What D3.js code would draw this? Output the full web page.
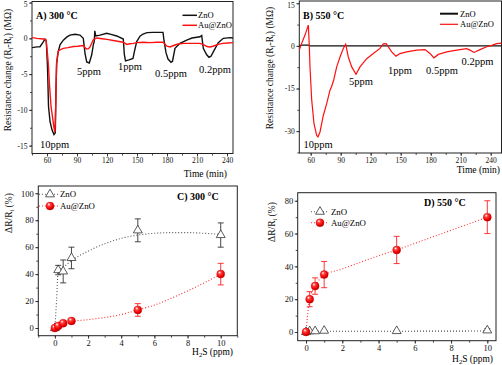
<!DOCTYPE html>
<html>
<head>
<meta charset="utf-8">
<script src="https://cdn.jsdelivr.net/npm/d3@7"></script>
<style>
  body { margin: 0; background: #fff; }
  svg { font-family: "Liberation Serif", "Times New Roman", serif; }
</style>
</head>
<body>
<svg id="chart" width="502" height="365"></svg>
<script>
// ---- data ----
const timeTicks = [60, 90, 120, 150, 180, 210, 240];
const ppmTicks = [0, 2, 4, 6, 8, 10];

// panel A, 300 °C, [time (min), resistance change (MΩ)]
const znoA = [[45,-1.3],[50,-1.2],[53,-1.17],[56.3,-0.5],[58,-0.1],[59.3,-0.4],[60.5,-4],[61.5,-9.5],[63,-11.6],[65,-12.8],[67,-13.45],[68.3,-13.2],[69,-7],[69.7,-3.5],[71,-2.0],[73,-0.9],[76.3,-0.25],[80,0.2],[83,0.45],[88,0.56],[93,0.45],[96.3,0.0],[98,-2.1],[99.7,-3.3],[102.3,-3.45],[104.7,-2.3],[106.3,-0.9],[107.3,-0.4],[107.8,1.05],[108.7,0.33],[113,0.45],[119.7,0.7],[124,0.55],[129.7,0.33],[136.3,-0.1],[137.3,-2.2],[138.5,-3.15],[142,-3.0],[146,-2.8],[147.5,-1.8],[149.7,-0.45],[153,0.3],[156,0.6],[160,0.8],[166,0.84],[176,0.84],[177,-0.3],[179,-2.0],[181,-2.9],[184,-3.35],[185.5,-3.2],[188,-1.4],[193,-0.7],[199.7,-0.24],[205,0.05],[213,0.22],[214.7,0.4],[216.3,-1.4],[219.7,-2.3],[222,-2.65],[224,-2.5],[226.3,-1.9],[231.3,-0.6],[236.3,0.0],[243,0.1],[246,0.05]];
const auA = [[45,0.1],[50,0.0],[56.3,-0.1],[59,-0.2],[60,-1.5],[61.3,-3.5],[62.5,-6.5],[64,-9.5],[65.5,-11],[67,-12.5],[68,-13.1],[68.8,-9],[69.5,-3.5],[71.3,-1.8],[73,-1.6],[76.3,-1.4],[81,-1.3],[86.3,-1.15],[91,-1.1],[96.3,-1.0],[98,-1.3],[99.7,-1.5],[101.5,-1.45],[103,-1.2],[106.3,-0.2],[109.7,0.05],[115,-0.05],[120,-0.15],[126.3,-0.3],[132,-0.45],[136.3,-0.55],[139.7,-0.85],[143,-0.75],[146.3,-0.7],[150,-0.6],[156,-0.55],[163,-0.6],[170,-0.55],[176,-0.55],[180,-1.1],[183,-1.2],[186.7,-1.0],[191,-0.8],[196.7,-0.7],[205,-0.7],[213,-0.7],[217,-0.9],[220,-1.15],[223,-1.2],[226,-1.1],[231,-0.85],[236,-0.7],[241,-0.65],[246,-0.6]];

// panel B, 550 °C
const znoB = [[48.6,0],[50.5,0.3],[58,0.3],[58.8,0],[250.8,0]];
const auB = [[48.6,-1.5],[50,0],[54.3,3.8],[57.6,7.3],[58.6,0],[59.3,-7.4],[61,-19],[63.3,-27.4],[66,-31.5],[67.3,-32],[69.3,-30.3],[72.6,-24.5],[76,-20.3],[79.3,-15.6],[81,-14.2],[83,-12],[86,-7.4],[89.3,-3.9],[92.6,-0.9],[95,0.6],[97.6,-3.9],[101,-7.4],[105.3,-10],[109.3,-7.4],[116,-4.5],[122.6,-2.7],[129.3,-0.9],[132.6,0.7],[135.5,0.8],[137,0],[141,-2.1],[145.3,-3.6],[149.3,-2.7],[156,-2.1],[166,-1.5],[174.3,-1.3],[179.3,-2.7],[183.3,-4.2],[187.6,-3],[196,-2.1],[206,-1.5],[216,-1.0],[219.3,-1.5],[223.3,-2.3],[229.3,-1.3],[236,-0.3],[241,0.2],[246,0.8],[250.8,1.0]];

// panels C & D: H2S (ppm) vs response ΔR/Ri (%), [ppm, mean, err]
const znoC = [[0,0,0],[0.2,43,3.5],[0.5,42,8.5],[1,52,8],[5,72.5,8.5],[10,69,9]];
const auC = [[0,0,0],[0.2,1.5,0],[0.5,3.5,0],[1,5.2,0],[5,13.4,4.7],[10,40,8]];
const znoD = [[0,0,0],[0.2,0.5,0],[0.5,0.5,0],[1,0.8,0],[5,0.6,0],[10,1,1]];
const auD = [[0,0,0],[0.2,20,4.6],[0.5,28,5],[1,35,8],[5,50,8.3],[10,70,10]];
// dotted guide curves
const znoFitC = [[0,0],[0.1,20],[0.2,42],[0.5,45],[1,50],[2,57],[3,62.5],[4,66.5],[5,69],[6,70.3],[7,70.8],[8,70.8],[9,70.3],[10,69.5]];
const auFitC = [[0,0],[0.2,1.5],[0.5,3],[1,4.8],[2,6.2],[3,7.8],[4,10],[5,13.5],[6,17],[7,22],[8,27.5],[9,33.5],[10,40]];
const znoFitD = [[0,0.3],[1,0.5],[5,0.5],[10,0.6]];
const auFitD = [[0,0],[0.1,12],[0.2,20],[0.5,28],[1,34.5],[2,38.5],[3,42.5],[4,46.5],[5,50],[6,54],[7,58],[8,62],[9,66],[10,70]];

const ppmLabelsA = [["10ppm",67.5,-15.3],["5ppm",102,-5.1],["1ppm",143,-4.4],["0.5ppm",184,-5.4],["0.2ppm",228,-4.85]];
const ppmLabelsB = [["10ppm",67.3,-36],["5ppm",110.3,-13.8],["1ppm",149.3,-9.9],["0.5ppm",191.3,-9.9],["0.2ppm",226.8,-6.9]];

const svg = d3.select("#chart");
const defs = svg.append("defs");
const grad = defs.append("radialGradient").attr("id", "ball").attr("cx", "40%").attr("cy", "35%").attr("r", "65%").attr("fx", "35%").attr("fy", "30%");
grad.append("stop").attr("offset", "0%").attr("stop-color", "#fff");
grad.append("stop").attr("offset", "30%").attr("stop-color", "#ff4040");
grad.append("stop").attr("offset", "75%").attr("stop-color", "#f00000");
grad.append("stop").attr("offset", "100%").attr("stop-color", "#b00000");

const fmt = d => String(d);

function frame(g, x, y, opt) {
  const [x0, x1] = x.range(), [y1, y0] = y.range();
  const ax = g.append("g").attr("transform", `translate(0,${y1})`)
    .call(d3.axisBottom(x).tickValues(opt.xMinor).tickSize(2).tickFormat(""));
  ax.select(".domain").remove();
  const axM = g.append("g").attr("transform", `translate(0,${y1})`)
    .call(d3.axisBottom(x).tickValues(opt.xTicks).tickSize(3).tickPadding(1.5).tickFormat(fmt));
  axM.select(".domain").remove();
  const ay = g.append("g").attr("transform", `translate(${x0},0)`)
    .call(d3.axisLeft(y).tickValues(opt.yMinor).tickSize(2).tickFormat(""));
  ay.select(".domain").remove();
  const ayM = g.append("g").attr("transform", `translate(${x0},0)`)
    .call(d3.axisLeft(y).tickValues(opt.yTicks).tickSize(3).tickPadding(1.5).tickFormat(fmt));
  ayM.select(".domain").remove();
  // keep the topmost label inside the picture
  ayM.selectAll(".tick text").filter(d => y(d) < 5).attr("dy", "0.55em");
  g.selectAll(".tick text").attr("font-size", opt.fs).attr("font-family", "Liberation Serif").attr("fill", "#111");
  g.selectAll(".tick line").attr("stroke", "#222").attr("stroke-width", 0.8);
  g.append("rect").attr("x", x0).attr("y", y0).attr("width", x1 - x0).attr("height", y1 - y0)
    .attr("fill", "none").attr("stroke", "#222").attr("stroke-width", 1);
}

function clip(id, x, y) {
  const [x0, x1] = x.range(), [y1, y0] = y.range();
  defs.append("clipPath").attr("id", id).append("rect")
    .attr("x", x0).attr("y", y0).attr("width", x1 - x0).attr("height", y1 - y0);
  return `url(#${id})`;
}

function yTitle(g, cx, cy, main, fs) {
  const t = g.append("text").attr("transform", `translate(${cx},${cy}) rotate(-90)`)
    .attr("text-anchor", "middle").attr("font-size", fs).attr("fill", "#111");
  main.forEach(p => {
    const s = t.append("tspan").text(p[0]);
    if (p[1]) s.attr("font-size", fs * 0.65).attr("dy", 2);
    else if (p[2]) s.attr("dy", -2);
  });
}

// ---------- panel A ----------
{
  const x = d3.scaleLinear().domain([45, 246]).range([32, 233]);
  const y = d3.scaleLinear().domain([-16.1, 5.15]).range([153.5, 1.5]);
  const g = svg.append("g");
  frame(g, x, y, { xTicks: timeTicks, xMinor: d3.range(45, 246, 15), yTicks: [5, 0, -5, -10, -15], yMinor: d3.range(-15, 5.1, 2.5), fs: 7.5 });
  const line = d3.line().x(d => x(d[0])).y(d => y(d[1]));
  const cp = clip("cA", x, y);
  g.append("path").datum(znoA).attr("d", line).attr("fill", "none").attr("stroke", "#111").attr("stroke-width", 1.4).attr("clip-path", cp);
  g.append("path").datum(auA).attr("d", line).attr("fill", "none").attr("stroke", "#ff1010").attr("stroke-width", 1.4).attr("clip-path", cp);
  g.append("text").attr("x", 36).attr("y", 18.5).attr("font-size", 10).attr("font-weight", "bold").text("A) 300 °C");
  g.selectAll(".ppm").data(ppmLabelsA).join("text").attr("x", d => x(d[1])).attr("y", d => y(d[2]))
    .attr("text-anchor", "middle").attr("font-size", 10.5).text(d => d[0]);
  [["ZnO", "#111", 15.3], ["Au@ZnO", "#ff1010", 25.3]].forEach(l => {
    g.append("line").attr("x1", 182.5).attr("x2", 197).attr("y1", l[2]).attr("y2", l[2]).attr("stroke", l[1]).attr("stroke-width", 1.5);
    g.append("text").attr("x", 198).attr("y", l[2] + 3).attr("font-size", 8.5).text(l[0]);
  });
  g.append("text").attr("x", 227).attr("y", 177).attr("text-anchor", "end").attr("font-size", 9.5).text("Time (min)");
  yTitle(g, 10.5, 70, [["Resistance change (R"], ["f", 1], ["-R", 0, 1], ["i", 1], [") (MΩ)", 0, 1]], 9.5);
}

// ---------- panel B ----------
{
  const x = d3.scaleLinear().domain([48.6, 250.8]).range([299.3, 501.5]);
  const y = d3.scaleLinear().domain([-37.7, 15.8]).range([153, 1]);
  const g = svg.append("g");
  frame(g, x, y, { xTicks: timeTicks, xMinor: d3.range(60, 251, 15), yTicks: [15, 0, -15, -30], yMinor: d3.range(-37.5, 15.1, 7.5), fs: 7.5 });
  const line = d3.line().x(d => x(d[0])).y(d => y(d[1]));
  const cp = clip("cB", x, y);
  g.append("path").datum(znoB).attr("d", line).attr("fill", "none").attr("stroke", "#111").attr("stroke-width", 1.3).attr("clip-path", cp);
  g.append("path").datum(auB).attr("d", line).attr("fill", "none").attr("stroke", "#ff1010").attr("stroke-width", 1.2).attr("clip-path", cp);
  g.append("text").attr("x", 303).attr("y", 18.5).attr("font-size", 10).attr("font-weight", "bold").text("B) 550 °C");
  g.selectAll(".ppm").data(ppmLabelsB).join("text").attr("x", d => x(d[1])).attr("y", d => y(d[2]))
    .attr("text-anchor", "middle").attr("font-size", 10.5).text(d => d[0]);
  [["ZnO", "#111", 13.7, 2], ["Au@ZnO", "#ff1010", 24.3, 1.2]].forEach(l => {
    g.append("line").attr("x1", 440).attr("x2", 458).attr("y1", l[2]).attr("y2", l[2]).attr("stroke", l[1]).attr("stroke-width", l[3]);
    g.append("text").attr("x", 460).attr("y", l[2] + 3).attr("font-size", 8.5).text(l[0]);
  });
  g.append("text").attr("x", 500).attr("y", 173).attr("text-anchor", "end").attr("font-size", 9.5).text("Time (min)");
  yTitle(g, 273, 68, [["Resistance change (R"], ["f", 1], ["-R", 0, 1], ["i", 1], [") (MΩ)", 0, 1]], 9.5);
}

function tri(g, x, y, data) {
  g.selectAll(null).data(data).join("path")
    .attr("transform", d => `translate(${x(d[0])},${y(d[1])})`)
    .attr("d", d3.symbol(d3.symbolTriangle, 34))
    .attr("fill", "#fff").attr("stroke", "#333").attr("stroke-width", 0.8);
}
function balls(g, x, y, data) {
  g.selectAll(null).data(data).join("circle")
    .attr("cx", d => x(d[0])).attr("cy", d => y(d[1])).attr("r", 4)
    .attr("fill", "url(#ball)").attr("stroke", "#d00000").attr("stroke-width", 0.4);
}
function errs(g, x, y, data, color) {
  const e = data.filter(d => d[2] > 0);
  const gg = g.append("g").attr("stroke", color).attr("stroke-width", 0.9);
  gg.selectAll(null).data(e).join("line").attr("x1", d => x(d[0])).attr("x2", d => x(d[0]))
    .attr("y1", d => y(d[1] - d[2])).attr("y2", d => y(d[1] + d[2]));
  [1, -1].forEach(s => gg.selectAll(null).data(e).join("line")
    .attr("x1", d => x(d[0]) - 3).attr("x2", d => x(d[0]) + 3)
    .attr("y1", d => y(d[1] + s * d[2])).attr("y2", d => y(d[1] + s * d[2])));
}
function dotted(g, x, y, data, color) {
  g.append("path").datum(data).attr("d", d3.line().curve(d3.curveMonotoneX).x(d => x(d[0])).y(d => y(d[1])))
    .attr("fill", "none").attr("stroke", color).attr("stroke-width", 1.1).attr("stroke-dasharray", "1,2");
}

// ---------- panel C ----------
{
  const x = d3.scaleLinear().domain([-1.0, 11.0]).range([38.3, 237.3]);
  const y = d3.scaleLinear().domain([-5.7, 105.4]).range([335.7, 186]);
  const g = svg.append("g");
  frame(g, x, y, { xTicks: ppmTicks, xMinor: d3.range(-1, 11.1, 1), yTicks: [0, 20, 40, 60, 80, 100], yMinor: d3.range(0, 101, 10), fs: 8.5 });
  dotted(g, x, y, znoFitC, "#555");
  dotted(g, x, y, auFitC, "#ff3030");
  errs(g, x, y, znoC, "#333");
  errs(g, x, y, auC, "#ff2020");
  tri(g, x, y, znoC);
  balls(g, x, y, auC);
  g.append("text").attr("x", 177).attr("y", 200).attr("font-size", 10).attr("font-weight", "bold").text("C) 300 °C");
  g.append("line").attr("x1", 39).attr("x2", 58).attr("y1", 194.3).attr("y2", 194.3).attr("stroke", "#555").attr("stroke-width", 1.1).attr("stroke-dasharray", "1,2");
  tri(g, d => d, d => d, [[50, 194.3]]);
  g.append("text").attr("x", 60).attr("y", 197.3).attr("font-size", 8.8).text("ZnO");
  g.append("line").attr("x1", 39).attr("x2", 58).attr("y1", 206).attr("y2", 206).attr("stroke", "#ff3030").attr("stroke-width", 1.1).attr("stroke-dasharray", "1,2");
  balls(g, d => d, d => d, [[50, 206]]);
  g.append("text").attr("x", 60).attr("y", 209).attr("font-size", 8.8).text("Au@ZnO");
  const xt = g.append("text").attr("x", 233).attr("y", 355).attr("text-anchor", "end").attr("font-size", 9.5);
  xt.append("tspan").text("H");
  xt.append("tspan").text("2").attr("font-size", 6.5).attr("dy", 2);
  xt.append("tspan").text("S (ppm)").attr("dy", -2);
  yTitle(g, 12, 213, [["ΔR/R"], ["i", 1], [" (%)", 0, 1]], 9.5);
}

// ---------- panel D ----------
{
  const x = d3.scaleLinear().domain([-0.46, 10.48]).range([297.7, 496]);
  const y = d3.scaleLinear().domain([-5.3, 84.9]).range([340.7, 192.7]);
  const g = svg.append("g");
  frame(g, x, y, { xTicks: ppmTicks, xMinor: d3.range(0, 10.1, 1), yTicks: [0, 20, 40, 60, 80], yMinor: d3.range(0, 81, 10), fs: 8.5 });
  dotted(g, x, y, znoFitD, "#444");
  dotted(g, x, y, auFitD, "#ff3030");
  errs(g, x, y, znoD, "#333");
  errs(g, x, y, auD, "#ff2020");
  tri(g, x, y, znoD);
  balls(g, x, y, auD);
  g.append("text").attr("x", 424).attr("y", 206).attr("font-size", 10).attr("font-weight", "bold").text("D) 550 °C");
  g.append("line").attr("x1", 311).attr("x2", 329).attr("y1", 211.7).attr("y2", 211.7).attr("stroke", "#555").attr("stroke-width", 1.1).attr("stroke-dasharray", "1,2");
  tri(g, d => d, d => d, [[320, 211.7]]);
  g.append("text").attr("x", 331).attr("y", 214.7).attr("font-size", 8.8).text("ZnO");
  g.append("line").attr("x1", 311).attr("x2", 329).attr("y1", 222.7).attr("y2", 222.7).attr("stroke", "#ff3030").attr("stroke-width", 1.1).attr("stroke-dasharray", "1,2");
  balls(g, d => d, d => d, [[320, 222.7]]);
  g.append("text").attr("x", 331).attr("y", 225.7).attr("font-size", 8.8).text("Au@ZnO");
  const xt = g.append("text").attr("x", 493).attr("y", 362).attr("text-anchor", "end").attr("font-size", 9.5);
  xt.append("tspan").text("H");
  xt.append("tspan").text("2").attr("font-size", 6.5).attr("dy", 2);
  xt.append("tspan").text("S (ppm)").attr("dy", -2);
  yTitle(g, 275, 222, [["ΔR/R"], ["i", 1], [" (%)", 0, 1]], 9.5);
}
</script>
</body>
</html>
